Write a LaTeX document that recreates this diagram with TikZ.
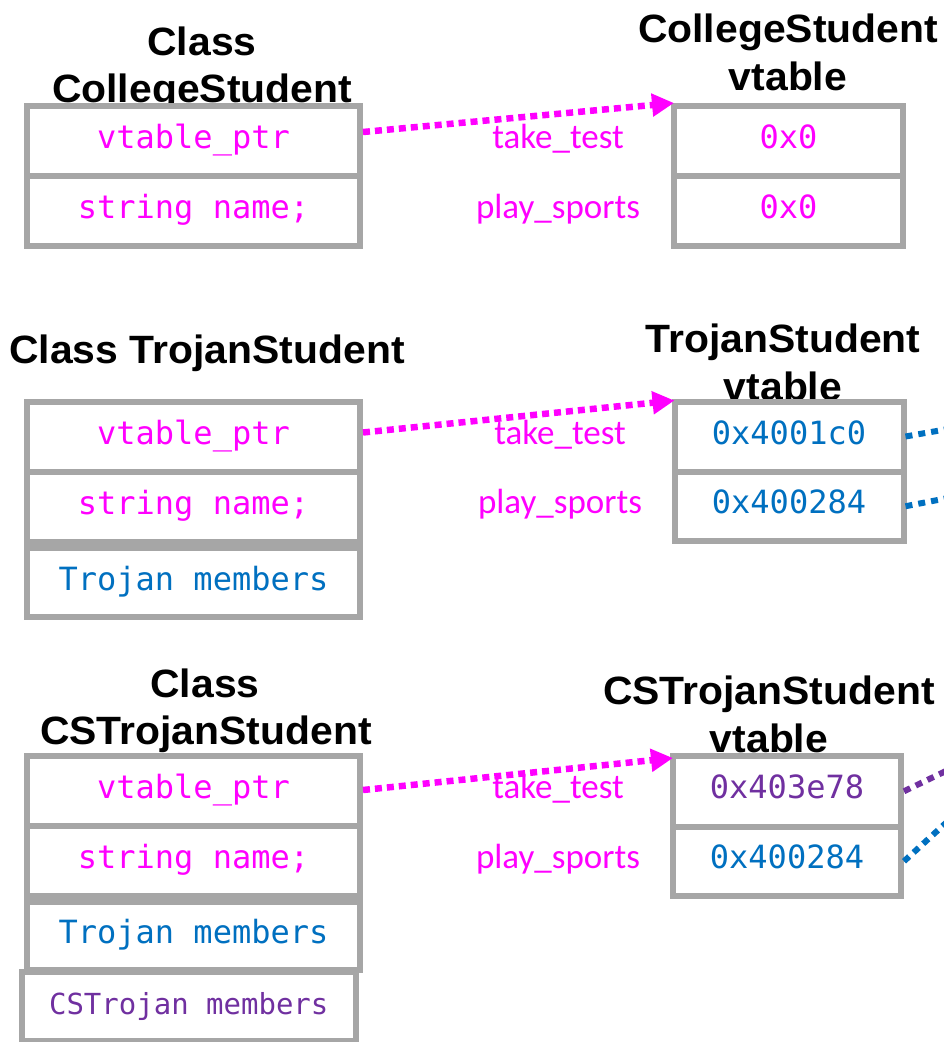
\documentclass[tikz,border=0pt]{standalone}
\usepackage{fontspec}
\usetikzlibrary{arrows.meta}
\newfontfamily\titlef{Liberation Sans}[FakeStretch=1.035]
\newfontfamily\codef{DejaVu Sans Mono}
\newfontfamily\labf{Carlito}
\definecolor{mag}{HTML}{FF00FF}
\definecolor{tblue}{HTML}{0070C0}
\definecolor{tpurp}{HTML}{7030A0}
\definecolor{bgray}{HTML}{A6A6A6}
\begin{document}
\begin{tikzpicture}[x=1pt,y=-1pt,
  title/.style={anchor=base, inner sep=0pt, font=\titlef\bfseries\fontsize{39.5}{48}\selectfont},
  cell/.style={draw=bgray, line width=6pt, fill=white, minimum width=333pt, minimum height=70pt,
    inner sep=0pt, outer sep=0pt, text height=22pt, text depth=7pt, font=\codef\fontsize{32}{38}\selectfont},
  vcell/.style={cell, minimum width=229pt},
  lab/.style={inner sep=0pt, text height=22pt, text depth=7pt, text=mag, font=\labf\fontsize{35}{41}\selectfont},
  ptr/.style={draw=mag, line width=6.5pt, dash pattern=on 7pt off 5pt, -{Triangle[length=22pt,width=22pt]}},
  vlink/.style={line width=6pt, dash pattern=on 7pt off 6pt}]
\useasboundingbox (0,0) rectangle (943,1042);
\fill[white] (0,0) rectangle (943,1042);

% ---------- titles ----------
\node[title] (tl1) at (202,55) {Class};
\node[title] (tl2) at (202,102) {CollegeStudent};
\node[title] (tr1) at (788,42) {CollegeStudent};
\node[title] (tr2) at (788,90) {vtable};
\node[title] (ml) at (207,363) {Class TrojanStudent};
\node[title] (mr1) at (783,352) {TrojanStudent};
\node[title] (mr2) at (783,400) {vtable};
\node[title] (bl1) at (205,697) {Class};
\node[title] (bl2) at (206,744) {CSTrojanStudent};
\node[title] (br1) at (769,704) {CSTrojanStudent};
\node[title] (br2) at (769,752) {vtable};

% ---------- top: CollegeStudent ----------
\node[cell, text=mag] (ct1) at (193.5,141) {vtable\_ptr};
\node[cell, text=mag] (ct2) at (193.5,211) {string name;};
\node[vcell, text=mag] (vt1) at (788.5,141) {0x0};
\node[vcell, text=mag] (vt2) at (788.5,211) {0x0};
\node[lab] (lt1) at (558,141) {take\_test};
\node[lab] (lt2) at (558,211) {play\_sports};

% ---------- middle: TrojanStudent ----------
\node[cell, text=mag] (cm1) at (193.5,436.5) {vtable\_ptr};
\node[cell, text=mag] (cm2) at (193.5,506.5) {string name;};
\node[cell, text=tblue, minimum height=69pt] (cm3) at (193.5,582.5) {Trojan members};
\node[vcell, text=tblue] (vm1) at (789,436.5) {0x4001c0};
\node[vcell, text=tblue, minimum height=69.5pt] (vm2) at (789,506.25) {0x400284};
\node[lab] (lm1) at (560,436.5) {take\_test};
\node[lab] (lm2) at (560,506) {play\_sports};

% ---------- bottom: CSTrojanStudent ----------
\node[cell, text=mag] (cb1) at (193.5,791) {vtable\_ptr};
\node[cell, text=mag] (cb2) at (193.5,861) {string name;};
\node[cell, text=tblue, minimum height=68pt] (cb3) at (193.5,936) {Trojan members};
\node[cell, text=tpurp, minimum width=334.5pt, minimum height=69pt, font=\codef\fontsize{29}{34}\selectfont] (cb4) at (188.75,1006.5) {CSTrojan members};
\node[vcell, text=tpurp, minimum width=228pt, minimum height=70.5pt] (vb1) at (787,791.25) {0x403e78};
\node[vcell, text=tblue, minimum width=228pt, minimum height=69.5pt] (vb2) at (787,861.25) {0x400284};
\node[lab] (lb1) at (558,791) {take\_test};
\node[lab] (lb2) at (558,861) {play\_sports};

% ---------- pointers ----------
\draw[ptr] ([xshift=3pt,yshift=9pt]ct1.east) -- ([yshift=3pt]vt1.north west);
\draw[ptr] ([xshift=3pt,yshift=4pt]cm1.east) -- ([yshift=1pt]vm1.north west);
\draw[ptr] ([xshift=3pt,yshift=1pt]cb1.east) -- ([yshift=-2pt]vb1.north west);

% ---------- links leaving the right edge ----------
\coordinate (em1) at (948,429);
\coordinate (em2) at (948,498);
\coordinate (eb1) at (948,770);
\coordinate (eb2) at (948,821);
\draw[vlink, tblue] ([xshift=2pt]vm1.east) -- (em1);
\draw[vlink, tblue] ([xshift=2pt]vm2.east) -- (em2);
\draw[vlink, tpurp] ([xshift=3pt]vb1.east) -- (eb1);
\draw[vlink, tblue] ([xshift=3pt]vb2.east) -- (eb2);
\end{tikzpicture}
\end{document}
